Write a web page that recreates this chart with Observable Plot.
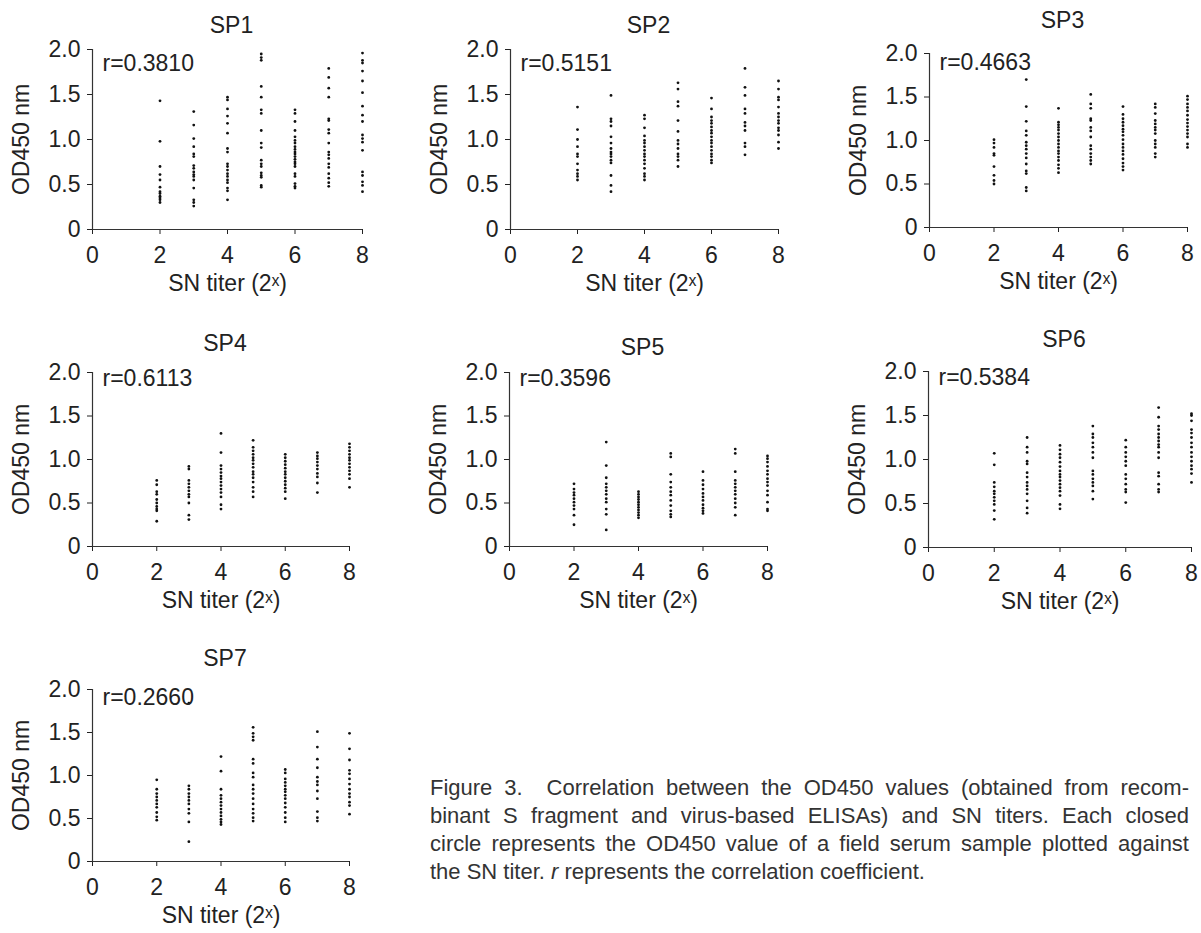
<!DOCTYPE html>
<html>
<head>
<meta charset="utf-8">
<script src="https://cdn.jsdelivr.net/npm/d3@7"></script>
<script src="https://cdn.jsdelivr.net/npm/@observablehq/plot@0.6"></script>
<style>
  html, body { margin: 0; padding: 0; background: #fff; }
  body { width: 1201px; height: 933px; position: relative; overflow: hidden;
         font-family: "Liberation Sans", Arial, sans-serif; color: #222; }
  .panel { position: absolute; }
  #caption { position: absolute; left: 430px; top: 774px; width: 759px;
             font-size: 22px; line-height: 28px; color: #333; }
  #caption .j { text-align: justify; text-align-last: justify; white-space: nowrap; }
  #caption .l { white-space: nowrap; }
</style>
</head>
<body>
<div id="caption">
  <div class="j">Figure 3.&nbsp; Correlation between the OD450 values (obtained from recom-</div>
  <div class="j">binant S fragment and virus-based ELISAs) and SN titers. Each closed</div>
  <div class="j">circle represents the OD450 value of a field serum sample plotted against</div>
  <div class="l">the SN titer. <i>r</i> represents the correlation coefficient.</div>
</div>
<script>
// ---------- data ----------
const panelNames = ["SP1", "SP2", "SP3", "SP4", "SP5", "SP6", "SP7"];
const rLabels = ["r=0.3810", "r=0.5151", "r=0.4663", "r=0.6113", "r=0.3596", "r=0.5384", "r=0.2660"];
const titers = [2, 3, 4, 5, 6, 7, 8];
const xTicks = [0, 2, 4, 6, 8];
const yTicks = [0, 0.5, 1.0, 1.5, 2.0];
const yTickLabels = ["0", "0.5", "1.0", "1.5", "2.0"];

// OD450 values, one list per SN titer (2..8)
const sp1 = [
  [1.43, 0.98, 0.70, 0.61, 0.55, 0.47, 0.42, 0.40, 0.37, 0.35, 0.33, 0.30],
  [1.31, 1.16, 1.01, 0.92, 0.84, 0.81, 0.71, 0.68, 0.64, 0.61, 0.59, 0.55, 0.46, 0.33, 0.30, 0.26],
  [1.47, 1.44, 1.34, 1.26, 1.18, 1.07, 0.90, 0.86, 0.73, 0.70, 0.66, 0.62, 0.59, 0.55, 0.52, 0.46, 0.43, 0.33],
  [1.95, 1.91, 1.88, 1.59, 1.47, 1.33, 1.29, 1.10, 0.96, 0.91, 0.77, 0.73, 0.70, 0.63, 0.60, 0.58, 0.49, 0.47],
  [1.33, 1.29, 1.20, 1.10, 1.03, 0.99, 0.96, 0.92, 0.89, 0.86, 0.84, 0.81, 0.78, 0.75, 0.73, 0.70, 0.62, 0.59, 0.51, 0.48, 0.46],
  [1.79, 1.69, 1.57, 1.47, 1.23, 1.21, 1.11, 1.07, 0.96, 0.86, 0.83, 0.79, 0.73, 0.69, 0.62, 0.57, 0.52, 0.48],
  [1.96, 1.88, 1.85, 1.76, 1.65, 1.52, 1.37, 1.27, 1.20, 1.05, 1.01, 0.97, 0.88, 0.64, 0.60, 0.53, 0.49, 0.42]
];
const sp2 = [
  [1.36, 1.11, 1.00, 0.92, 0.84, 0.81, 0.73, 0.66, 0.62, 0.59, 0.55],
  [1.49, 1.23, 1.20, 1.15, 1.03, 0.96, 0.90, 0.86, 0.84, 0.81, 0.77, 0.74, 0.60, 0.49, 0.42],
  [1.27, 1.23, 1.13, 1.04, 0.99, 0.96, 0.92, 0.88, 0.84, 0.81, 0.77, 0.73, 0.68, 0.62, 0.59, 0.55],
  [1.63, 1.56, 1.42, 1.37, 1.21, 1.09, 0.99, 0.95, 0.90, 0.84, 0.81, 0.77, 0.70],
  [1.46, 1.34, 1.25, 1.21, 1.18, 1.14, 1.10, 1.07, 1.03, 0.99, 0.96, 0.92, 0.88, 0.84, 0.81, 0.77, 0.74],
  [1.79, 1.58, 1.49, 1.34, 1.29, 1.19, 1.15, 1.10, 0.96, 0.92, 0.83],
  [1.65, 1.56, 1.47, 1.44, 1.36, 1.29, 1.25, 1.21, 1.18, 1.13, 1.10, 1.05, 0.97, 0.90]
];
const sp3 = [
  [1.01, 0.97, 0.92, 0.85, 0.83, 0.70, 0.60, 0.54, 0.50],
  [1.70, 1.39, 1.22, 1.11, 1.06, 0.98, 0.94, 0.90, 0.85, 0.80, 0.73, 0.65, 0.62, 0.46, 0.42],
  [1.37, 1.21, 1.18, 1.15, 1.12, 1.08, 1.04, 1.00, 0.96, 0.92, 0.88, 0.85, 0.81, 0.77, 0.72, 0.68, 0.63],
  [1.53, 1.42, 1.37, 1.25, 1.23, 1.15, 1.11, 1.04, 0.94, 0.90, 0.85, 0.81, 0.77, 0.73],
  [1.39, 1.30, 1.25, 1.21, 1.17, 1.13, 1.10, 1.06, 1.01, 0.96, 0.92, 0.88, 0.84, 0.79, 0.74, 0.70, 0.66],
  [1.42, 1.38, 1.31, 1.23, 1.19, 1.15, 1.12, 1.08, 1.00, 0.96, 0.92, 0.85, 0.81],
  [1.51, 1.47, 1.42, 1.38, 1.34, 1.29, 1.24, 1.20, 1.16, 1.12, 1.08, 1.04, 0.96, 0.92]
];
const sp4 = [
  [0.76, 0.71, 0.63, 0.60, 0.54, 0.50, 0.46, 0.43, 0.41, 0.29],
  [0.92, 0.89, 0.76, 0.72, 0.68, 0.64, 0.60, 0.57, 0.50, 0.36, 0.31],
  [1.30, 1.08, 0.93, 0.89, 0.85, 0.81, 0.78, 0.74, 0.70, 0.66, 0.62, 0.57, 0.48, 0.43],
  [1.22, 1.14, 1.10, 1.06, 1.02, 0.99, 0.95, 0.91, 0.86, 0.83, 0.79, 0.74, 0.68, 0.63, 0.57],
  [1.06, 1.02, 0.98, 0.94, 0.90, 0.86, 0.83, 0.79, 0.75, 0.71, 0.67, 0.63, 0.55],
  [1.08, 1.04, 1.01, 0.97, 0.93, 0.89, 0.84, 0.80, 0.73, 0.62],
  [1.18, 1.14, 1.10, 1.06, 1.02, 0.99, 0.95, 0.91, 0.87, 0.83, 0.78, 0.68]
];
const sp5 = [
  [0.72, 0.66, 0.62, 0.59, 0.55, 0.51, 0.47, 0.43, 0.36, 0.25],
  [1.20, 0.93, 0.79, 0.72, 0.68, 0.64, 0.60, 0.55, 0.51, 0.43, 0.37, 0.19],
  [0.63, 0.60, 0.57, 0.54, 0.51, 0.48, 0.45, 0.42, 0.39, 0.36, 0.33],
  [1.07, 1.03, 0.83, 0.74, 0.68, 0.63, 0.59, 0.53, 0.47, 0.41, 0.37, 0.34],
  [0.86, 0.76, 0.71, 0.66, 0.61, 0.57, 0.53, 0.48, 0.44, 0.41, 0.38],
  [1.12, 1.07, 0.86, 0.76, 0.72, 0.68, 0.64, 0.60, 0.55, 0.50, 0.45, 0.36],
  [1.04, 1.01, 0.97, 0.92, 0.87, 0.83, 0.78, 0.74, 0.70, 0.64, 0.59, 0.51, 0.43, 0.41]
];
const sp6 = [
  [1.07, 0.94, 0.74, 0.69, 0.64, 0.61, 0.57, 0.53, 0.49, 0.42, 0.32],
  [1.25, 1.14, 1.08, 0.98, 0.95, 0.85, 0.80, 0.74, 0.70, 0.66, 0.61, 0.53, 0.45, 0.39],
  [1.16, 1.11, 1.06, 1.02, 0.97, 0.92, 0.87, 0.83, 0.80, 0.76, 0.72, 0.68, 0.64, 0.59, 0.49, 0.44],
  [1.38, 1.29, 1.25, 1.19, 1.14, 1.08, 1.02, 0.87, 0.83, 0.78, 0.74, 0.70, 0.64, 0.55],
  [1.22, 1.14, 1.08, 1.03, 0.98, 0.93, 0.83, 0.78, 0.72, 0.66, 0.63, 0.51],
  [1.59, 1.48, 1.38, 1.34, 1.29, 1.25, 1.21, 1.17, 1.14, 1.08, 1.02, 0.85, 0.81, 0.72, 0.66, 0.63],
  [1.52, 1.50, 1.44, 1.34, 1.30, 1.25, 1.19, 1.14, 1.08, 1.03, 0.98, 0.93, 0.89, 0.84, 0.74]
];
const sp7 = [
  [0.95, 0.84, 0.79, 0.75, 0.71, 0.67, 0.63, 0.57, 0.52, 0.48],
  [1.84, 0.88, 0.84, 0.79, 0.75, 0.71, 0.67, 0.61, 0.56, 0.46, 0.23],
  [1.22, 1.05, 0.84, 0.77, 0.73, 0.69, 0.65, 0.61, 0.57, 0.53, 0.49, 0.46, 0.43],
  [1.56, 1.49, 1.45, 1.41, 1.19, 1.14, 1.03, 0.98, 0.89, 0.84, 0.79, 0.73, 0.67, 0.61, 0.56, 0.51, 0.47],
  [1.07, 1.03, 0.96, 0.92, 0.88, 0.84, 0.81, 0.77, 0.73, 0.68, 0.63, 0.57, 0.51, 0.46],
  [1.51, 1.33, 1.19, 1.09, 0.98, 0.93, 0.89, 0.82, 0.73, 0.58, 0.51, 0.47],
  [1.49, 1.31, 1.18, 1.06, 1.02, 0.96, 0.90, 0.84, 0.79, 0.75, 0.69, 0.65, 0.55]
];
const seriesList = [sp1, sp2, sp3, sp4, sp5, sp6, sp7];

// ---------- layout (pixel positions of each panel's frame) ----------
const frameLeft  = [92, 510, 929, 92, 509, 928, 92];
const frameTop   = [49, 49, 53, 372, 372, 371, 689];
const frameW     = [270, 268, 258, 257, 258, 263, 257];
const frameH     = [180, 180, 174, 174, 174, 176, 172];
const titleGap   = [24, 24, 33, 29, 25, 32, 31];
const rGap       = [14, 14, 9, 6, 6, 6, 8];

const ML = 92, MT = 50, MR = 8, MB = 72;
const FONT = '"Liberation Sans", Arial, sans-serif';
const FS = 23;

panelNames.forEach((name, i) => {
  const rows = [];
  seriesList[i].forEach((vals, k) => vals.forEach(v => rows.push({titer: titers[k], od: v})));

  const chart = Plot.plot({
    width: ML + frameW[i] + MR,
    height: MT + frameH[i] + MB,
    marginLeft: ML, marginTop: MT, marginRight: MR, marginBottom: MB,
    style: {fontFamily: FONT, fontSize: FS + "px", color: "#222", background: "transparent", overflow: "visible"},
    x: {domain: [0, 8], ticks: xTicks, tickSize: 5, tickPadding: 12,
        label: "SN titer (2ˣ)", labelAnchor: "center", labelOffset: 61, labelArrow: false},
    y: {domain: [0, 2], ticks: yTicks, tickSize: 5, tickPadding: 7,
        tickFormat: d => yTickLabels[yTicks.indexOf(d)],
        label: "OD450 nm", labelAnchor: "center", labelOffset: 80, labelArrow: false},
    marks: [
      Plot.ruleX([0], {stroke: "#333", strokeWidth: 1.2}),
      Plot.ruleY([0], {stroke: "#333", strokeWidth: 1.2}),
      Plot.dot(rows, {x: "titer", y: "od", r: 1.4, fill: "#111", stroke: null}),
      Plot.text([name], {frameAnchor: "top", dx: 4, dy: -titleGap[i], text: d => d,
                         lineAnchor: "middle", fontSize: FS, fill: "#222"}),
      Plot.text([rLabels[i]], {frameAnchor: "top-left", dx: 10, dy: rGap[i], text: d => d,
                               textAnchor: "start", lineAnchor: "middle", fontSize: FS, fill: "#222"})
    ]
  });
  chart.classList.add("panel");
  chart.style.left = (frameLeft[i] - ML) + "px";
  chart.style.top = (frameTop[i] - MT) + "px";
  document.body.appendChild(chart);
});
</script>
</body>
</html>
